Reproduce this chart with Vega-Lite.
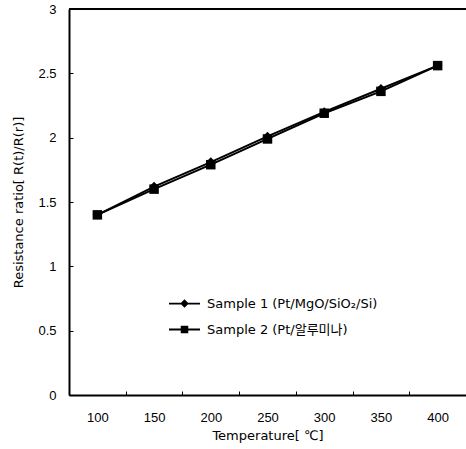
{
  "$schema": "https://vega.github.io/schema/vega-lite/v6.json",
  "autosize": "none",
  "padding": {"left": 69, "top": 9, "right": 0, "bottom": 54},
  "width": 397,
  "height": 386,
  "background": "white",
  "config": {
    "view": {"stroke": null},
    "font": "DejaVu Sans, 'Noto Sans CJK KR'",
    "axis": {"grid": false, "domainColor": "black", "tickColor": "black", "labelColor": "black", "titleColor": "black", "labelFont": "Liberation Sans", "titleFont": "DejaVu Sans", "labelFontSize": 13, "titleFontSize": 13, "titleFontWeight": "normal", "domainWidth": 2, "tickWidth": 1}
  },
  "data": {
    "values": [
      {"temp": 100, "ratio": 1.40, "series": "Sample 1 (Pt/MgO/SiO₂/Si)"},
      {"temp": 150, "ratio": 1.62, "series": "Sample 1 (Pt/MgO/SiO₂/Si)"},
      {"temp": 200, "ratio": 1.81, "series": "Sample 1 (Pt/MgO/SiO₂/Si)"},
      {"temp": 250, "ratio": 2.01, "series": "Sample 1 (Pt/MgO/SiO₂/Si)"},
      {"temp": 300, "ratio": 2.20, "series": "Sample 1 (Pt/MgO/SiO₂/Si)"},
      {"temp": 350, "ratio": 2.38, "series": "Sample 1 (Pt/MgO/SiO₂/Si)"},
      {"temp": 400, "ratio": 2.56, "series": "Sample 1 (Pt/MgO/SiO₂/Si)"},
      {"temp": 100, "ratio": 1.40, "series": "Sample 2 (Pt/알루미나)"},
      {"temp": 150, "ratio": 1.60, "series": "Sample 2 (Pt/알루미나)"},
      {"temp": 200, "ratio": 1.79, "series": "Sample 2 (Pt/알루미나)"},
      {"temp": 250, "ratio": 1.99, "series": "Sample 2 (Pt/알루미나)"},
      {"temp": 300, "ratio": 2.19, "series": "Sample 2 (Pt/알루미나)"},
      {"temp": 350, "ratio": 2.36, "series": "Sample 2 (Pt/알루미나)"},
      {"temp": 400, "ratio": 2.56, "series": "Sample 2 (Pt/알루미나)"}
    ]
  },
  "encoding": {
    "x": {
      "field": "temp", "type": "ordinal",
      "scale": {"type": "band", "paddingInner": 0, "paddingOuter": 0},
      "axis": {"title": "Temperature[ ℃]", "labelAngle": 0, "tickBand": "extent", "tickSize": -4, "labelPadding": 20, "titlePadding": 5}
    },
    "y": {
      "field": "ratio", "type": "quantitative",
      "scale": {"domain": [0, 3], "nice": false, "zero": true},
      "axis": {"title": "Resistance ratio[ R(t)/R(r)]", "values": [0, 0.5, 1, 1.5, 2, 2.5, 3], "format": "~g", "tickSize": -4, "labelPadding": 17, "titlePadding": 12}
    }
  },
  "layer": [
    {
      "mark": {"type": "rule", "color": "black", "strokeWidth": 2},
      "encoding": {"y": {"datum": 3}, "x": null}
    },
    {
      "mark": {"type": "line", "color": "black", "strokeWidth": 2},
      "encoding": {"detail": {"field": "series"}}
    },
    {
      "mark": {"type": "point", "filled": true, "color": "black", "size": 90, "opacity": 1},
      "encoding": {
        "shape": {"field": "series", "type": "nominal", "scale": {"range": ["diamond", "square"]}, "legend": null}
      }
    },
    {
      "mark": {"type": "point", "filled": true, "color": "black", "size": 10, "opacity": 0},
      "encoding": {
        "shape": {
          "field": "series", "type": "nominal",
          "scale": {"range": ["M-1.24,-0.07H1.24V0.07H-1.24ZM0,-0.34L0.34,0L0,0.34L-0.34,0Z", "M-1.24,-0.08H1.24V0.08H-1.24ZM-0.3,-0.3H0.3V0.3H-0.3Z"]},
          "legend": {
            "title": null, "orient": "none", "legendX": 103, "legendY": 282,
            "symbolSize": 625, "symbolOpacity": 1, "symbolFillColor": "black", "symbolStrokeColor": "black", "symbolStrokeWidth": 0,
            "labelFontSize": 13, "labelColor": "black", "labelOffset": 10, "rowPadding": 6, "labelFont": "DejaVu Sans, 'Noto Sans CJK KR'", "labelLimit": 300,
            "encode": {"symbols": {"update": {"fill": {"value": "black"}, "opacity": {"value": 1}, "fillOpacity": {"value": 1}}}}
          }
        }
      }
    }
  ],
  "resolve": {"scale": {"shape": "independent"}}
}
